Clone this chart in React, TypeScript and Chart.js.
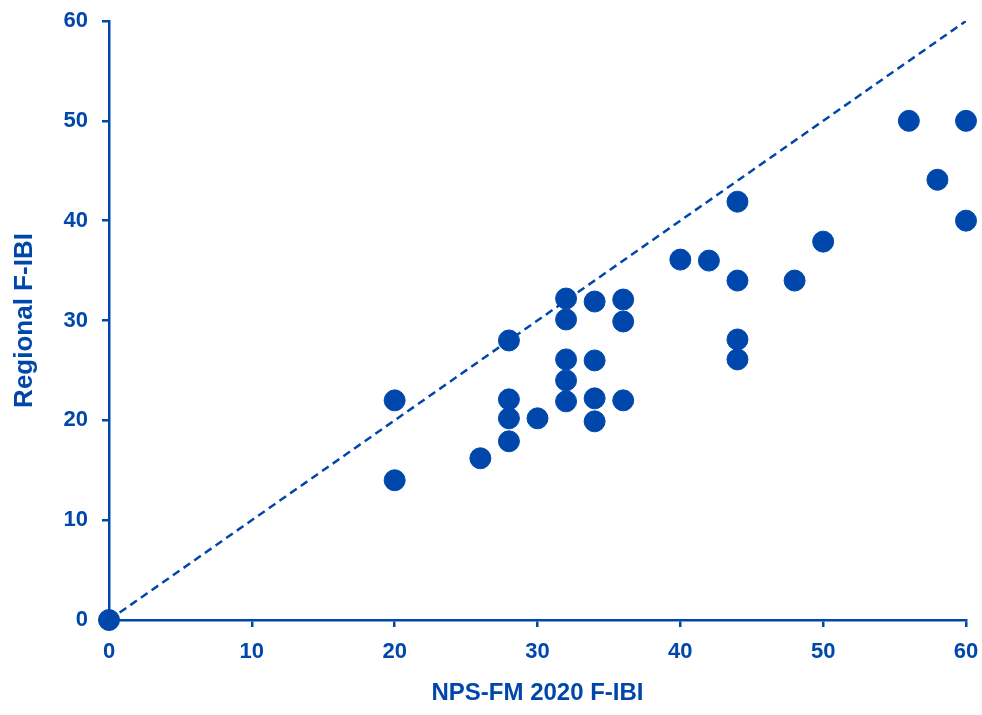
import React, { useEffect, useRef } from "react";
import { Chart, registerables } from "chart.js";

Chart.register(...registerables);

const xValues = [0, 20, 20, 26, 28, 28, 28, 28, 30, 32, 32, 32, 32, 32, 34, 34, 34, 34, 36, 36, 36, 40, 42, 44, 44, 44, 44, 48, 50, 56, 58, 60, 60];
const yValues = [0, 22, 14, 16.2, 28, 22.1, 20.2, 17.9, 20.2, 32.2, 30.1, 26.1, 24, 21.9, 31.9, 26, 22.2, 19.9, 32.1, 29.9, 22, 36.1, 36, 41.9, 34, 28.1, 26.1, 34, 37.9, 50, 44.1, 50, 40];
const lineX = [0, 60];
const lineY = [0, 60];
const tickValues = [0, 10, 20, 30, 40, 50, 60];
const xTitle = "NPS-FM 2020 F-IBI";
const yTitle = "Regional F-IBI";

const BLUE = "#0047AB";
const FONT = "'Liberation Sans Narrow', 'Arial Narrow', 'Liberation Sans', Arial, sans-serif";

export default function App() {
  const ref = useRef<HTMLCanvasElement | null>(null);
  useEffect(() => {
    if (!ref.current) return;
    const chart = new Chart(ref.current, {
      type: "scatter",
      data: {
        datasets: [
          {
            type: "line",
            data: lineX.map((x, i) => ({ x, y: lineY[i] })),
            borderColor: BLUE,
            borderWidth: 2.5,
            borderDash: [8, 5],
            pointRadius: 0,
            fill: false,
          },
          {
            type: "scatter",
            data: xValues.map((x, i) => ({ x, y: yValues[i] })),
            backgroundColor: BLUE,
            borderColor: BLUE,
            pointRadius: 10.5,
            pointHoverRadius: 10.5,
            clip: false,
          } as any,
        ],
      },
      options: {
        animation: false,
        responsive: false,
        events: [],
        layout: { padding: { left: 0, top: 21, right: 16, bottom: 0 } },
        plugins: { legend: { display: false }, tooltip: { enabled: false } },
        scales: {
          x: {
            type: "linear",
            min: 0,
            max: 60,
            afterBuildTicks: (s: any) => { s.ticks = tickValues.map((v) => ({ value: v })); },
            afterFit: (s: any) => { s.height = 95; s.paddingLeft = 0; s.paddingRight = 0; },
            border: { color: BLUE, width: 2.5 },
            grid: { drawOnChartArea: false, color: BLUE, tickLength: 7, lineWidth: 2.5 },
            ticks: { color: BLUE, padding: 12, font: { family: FONT, size: 22, weight: "bold" } },
            title: { display: true, text: xTitle, color: BLUE, padding: { bottom: 7 }, font: { family: FONT, size: 24, weight: "bold" } },
          },
          y: {
            type: "linear",
            min: 0,
            max: 60,
            afterBuildTicks: (s: any) => { s.ticks = tickValues.map((v) => ({ value: v })); },
            afterFit: (s: any) => { s.width = 109; s.paddingTop = 0; s.paddingBottom = 0; },
            border: { color: BLUE, width: 2.5 },
            grid: { drawOnChartArea: false, color: BLUE, tickLength: 7, lineWidth: 2.5 },
            ticks: { color: BLUE, padding: 14, font: { family: FONT, size: 22, weight: "bold" } },
            title: { display: true, text: yTitle, color: BLUE, padding: { top: 9 }, font: { family: FONT, size: 26, weight: "bold" } },
          },
        },
      },
    });
    return () => chart.destroy();
  }, []);
  return (
    <div style={{ position: "fixed", left: 0, top: 0, width: 982, height: 715, background: "#fff" }}>
      <canvas ref={ref} width={982} height={715} style={{ width: 982, height: 715, display: "block" }} />
    </div>
  );
}
